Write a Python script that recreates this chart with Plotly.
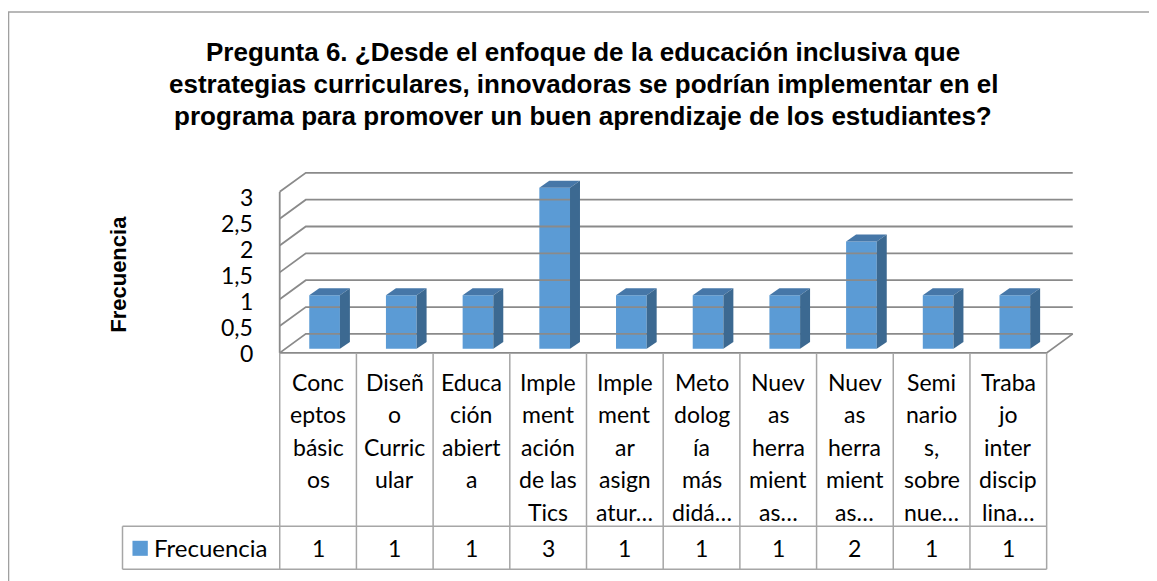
import plotly.graph_objects as go

titulo = [
    "Pregunta 6. ¿Desde el enfoque de la educación inclusiva que",
    "estrategias curriculares, innovadoras se podrían implementar en el",
    "programa para promover un buen aprendizaje de los estudiantes?",
]
categorias = [
    "Conc\neptos\nbásic\nos",
    "Diseñ\no\nCurric\nular",
    "Educa\nción\nabiert\na",
    "Imple\nment\nación\nde las\nTics",
    "Imple\nment\nar\nasign\natur…",
    "Meto\ndolog\nía\nmás\ndidá…",
    "Nuev\nas\nherra\nmient\nas…",
    "Nuev\nas\nherra\nmient\nas…",
    "Semi\nnario\ns,\nsobre\nnue…",
    "Traba\njo\ninter\ndiscip\nlina…",
]
frecuencia = [1, 1, 1, 3, 1, 1, 1, 2, 1, 1]
ticks = [0, 0.5, 1, 1.5, 2, 2.5, 3]
tick_labels = ["0", "0,5", "1", "1,5", "2", "2,5", "3"]

# profundidad del efecto 3D (en unidades de eje)
DX, DY = 0.34, 0.354
grid = "#8a8a8a"
linea_tabla = "#a6a6a6"
fuente = "Lato"

fig = go.Figure()

# pared del fondo y pared izquierda
gx, gy = [], []
for v in ticks:
    gx += [-0.5, -0.5 + DX, 9.5 + DX, None]
    gy += [v, v + DY, v + DY, None]
gx += [-0.5, -0.5, None, -0.5, 9.5, 9.5 + DX]
gy += [0, 3, None, 0, 0, DY]
fig.add_trace(go.Scatter(x=gx, y=gy, mode="lines", line=dict(color=grid, width=1.8),
                         hoverinfo="skip", cliponaxis=False))

# barras
xs = [i + 0.085 for i in range(len(frecuencia))]
w, b, d = 0.40, 0.075, 0.13
fig.add_trace(go.Bar(x=xs, y=frecuencia, base=b, width=w, marker=dict(color="#5b9bd5", line=dict(width=0))))
for x, v in zip(xs, frecuencia):
    l, r, t = x - w / 2, x + w / 2, v + b
    fig.add_trace(go.Scatter(x=[l, r, r + d, l + d, l], y=[t, t, t + d, t + d, t], fill="toself",
                             fillcolor="#4677a8", mode="lines", line=dict(width=0), hoverinfo="skip"))
    fig.add_trace(go.Scatter(x=[r, r + d, r + d, r, r], y=[b, b + d, t + d, t, b], fill="toself",
                             fillcolor="#3c6991", mode="lines", line=dict(width=0), hoverinfo="skip"))

# tabla de datos
y_fila = -3.23
y_fin = -4.03
x_leyenda = -2.55
shapes = []
for i in range(len(frecuencia) + 1):
    shapes.append(dict(type="line", xref="x", yref="y", x0=i - 0.5, x1=i - 0.5, y0=0, y1=y_fin,
                       line=dict(color=linea_tabla, width=1.5)))
for yy in [y_fila, y_fin]:
    shapes.append(dict(type="line", xref="x", yref="y", x0=x_leyenda, x1=9.5, y0=yy, y1=yy,
                       line=dict(color=linea_tabla, width=1.5)))
shapes.append(dict(type="line", xref="x", yref="y", x0=x_leyenda, x1=x_leyenda, y0=y_fila, y1=y_fin,
                   line=dict(color=linea_tabla, width=1.5)))
shapes.append(dict(type="rect", xref="x", yref="y", x0=-2.42, x1=-2.22, y0=-3.50, y1=-3.78,
                   fillcolor="#5b9bd5", line=dict(width=0)))
# marco del gráfico
shapes.append(dict(type="line", xref="paper", yref="paper", x0=-0.106, x1=1.2, y0=1.375, y1=1.375,
                   line=dict(color="#a0a0a0", width=1.5)))
shapes.append(dict(type="line", xref="paper", yref="paper", x0=-0.1052, x1=-0.1052, y0=1.375, y1=-0.2,
                   line=dict(color="#a0a0a0", width=1.5)))

ann = []
for k, linea in enumerate(titulo):
    ann.append(dict(x=0.4846, y=1.277 - 0.0785 * k, xref="paper", yref="paper", text="<b>" + linea + "</b>",
                    showarrow=False, xanchor="center", yanchor="middle",
                    font=dict(family="Liberation Sans, Arial", size=26, color="black")))
for i, cat in enumerate(categorias):
    for k, linea in enumerate(cat.split("\n")):
        ann.append(dict(x=i, y=0, xref="x", yref="y", text=linea, showarrow=False,
                        yanchor="middle", yshift=-(29 + 32.5 * k),
                        font=dict(family=fuente, size=23, color="black")))
    ann.append(dict(x=i, y=(y_fila + y_fin) / 2, xref="x", yref="y", text=str(frecuencia[i]),
                    showarrow=False, font=dict(family=fuente, size=23, color="black")))
ann.append(dict(x=-2.16, y=(y_fila + y_fin) / 2, xref="x", yref="y", text="Frecuencia", xanchor="left",
                showarrow=False, font=dict(family=fuente, size=24, color="black")))
for v, t in zip(ticks, tick_labels):
    ann.append(dict(x=-0.5, y=v * 0.97, xref="x", yref="y", text=t, xanchor="right", xshift=-25,
                    showarrow=False, font=dict(family=fuente, size=23, color="black")))
ann.append(dict(x=0.008, y=1.47, xref="paper", yref="y", text="<b>Frecuencia</b>", textangle=-90,
                xanchor="center", yanchor="middle",
                showarrow=False, font=dict(family="Liberation Sans, Arial", size=22, color="black")))

fig.update_layout(
    width=1149, height=573,
    margin=dict(l=103, r=72, t=157, b=8),
    paper_bgcolor="white", plot_bgcolor="white",
    showlegend=False,
    xaxis=dict(range=[-2.7, 10.0], visible=False, fixedrange=True),
    yaxis=dict(range=[-4.1, 3.5], visible=False, fixedrange=True),
    shapes=shapes,
    annotations=ann,
)

fig.write_html("out.html")
